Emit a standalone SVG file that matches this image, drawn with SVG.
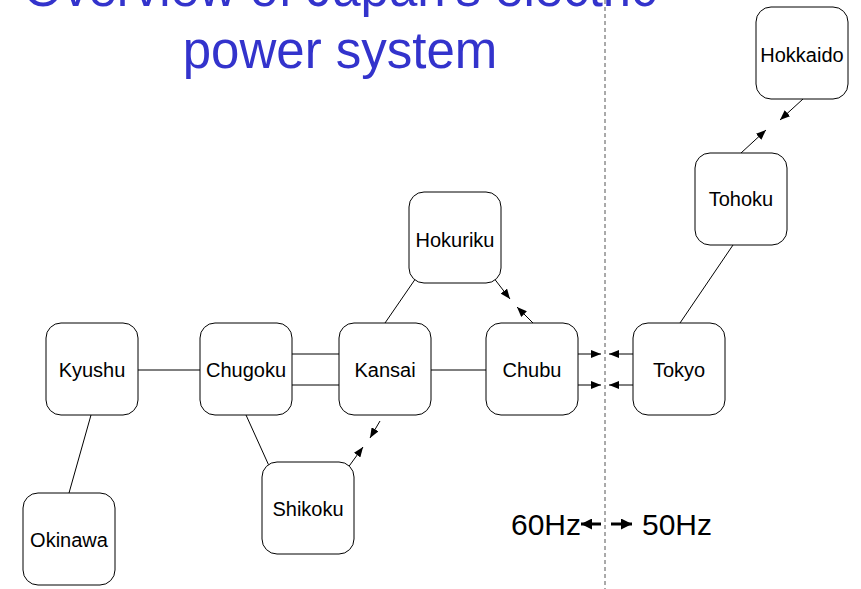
<svg xmlns="http://www.w3.org/2000/svg" width="861" height="589" viewBox="0 0 861 589">
<style>
.node rect{fill:#fff;stroke:#000;stroke-width:1}
.node text{font-family:"Liberation Sans",Arial,sans-serif;font-size:20px;fill:#000;text-anchor:middle}
.title{font-family:"Liberation Sans",Arial,sans-serif;font-size:51px;fill:#3333CC;text-anchor:middle}
.hz{font-family:"Liberation Sans",Arial,sans-serif;font-size:30px;fill:#000}
#connectors line{stroke:#000;stroke-width:1;fill:none}
#connectors .arr{marker-end:url(#ah)}
#connectors .thick{stroke-width:3;marker-end:url(#ahb)}
</style>
<defs>
<marker id="ah" markerUnits="userSpaceOnUse" markerWidth="10" markerHeight="8" refX="10" refY="4" orient="auto">
<path d="M0,0 L10,4 L0,8 Z" fill="#000"/>
</marker>
<marker id="ahb" markerUnits="userSpaceOnUse" markerWidth="11" markerHeight="11" refX="11" refY="5.5" orient="auto">
<path d="M0,0 L11,5.5 L0,11 Z" fill="#000"/>
</marker>
</defs>
<rect width="861" height="589" fill="#fff"/>
<g id="title">
<text class="title" x="340" y="6">Overview of Japan's electric</text>
<text class="title" x="340" y="68">power system</text>
</g>
<line id="boundary" x1="605" y1="0" x2="605" y2="589" stroke="#555" stroke-width="1" stroke-dasharray="4,3"/>
<g id="connectors">
<line x1="138" y1="370" x2="200" y2="370"/>
<line x1="91" y1="415" x2="69" y2="493"/>
<line x1="292" y1="354" x2="339" y2="354"/>
<line x1="292" y1="385" x2="339" y2="385"/>
<line x1="431" y1="370" x2="486" y2="370"/>
<line x1="385" y1="323" x2="416" y2="278"/>
<line x1="246" y1="415" x2="270" y2="468"/>
<line x1="680" y1="323" x2="733" y2="245"/>
<line class="arr" x1="380" y1="421" x2="370" y2="438"/>
<line class="arr" x1="347" y1="469" x2="363" y2="447"/>
<line class="arr" x1="493" y1="277" x2="510" y2="299"/>
<line class="arr" x1="533" y1="323" x2="517" y2="307"/>
<line class="arr" x1="578" y1="354" x2="601" y2="354"/>
<line class="arr" x1="578" y1="385" x2="601" y2="385"/>
<line class="arr" x1="633" y1="354" x2="609" y2="354"/>
<line class="arr" x1="633" y1="385" x2="609" y2="385"/>
<line class="arr" x1="803" y1="99" x2="780" y2="120"/>
<line class="arr" x1="741" y1="153" x2="766" y2="130"/>
<line class="thick" x1="601" y1="524" x2="581" y2="524"/>
<line class="thick" x1="611" y1="524" x2="632" y2="524"/>
</g>
<g id="hokkaido" class="node"><rect x="756" y="7" width="92" height="92" rx="15"/><text x="802" y="62">Hokkaido</text></g>
<g id="tohoku" class="node"><rect x="695" y="153" width="92" height="92" rx="15"/><text x="741" y="206">Tohoku</text></g>
<g id="hokuriku" class="node"><rect x="409" y="192" width="92" height="91" rx="15"/><text x="455" y="247">Hokuriku</text></g>
<g id="kyushu" class="node"><rect x="46" y="323" width="92" height="92" rx="15"/><text x="92" y="377">Kyushu</text></g>
<g id="chugoku" class="node"><rect x="200" y="323" width="92" height="92" rx="15"/><text x="246" y="377">Chugoku</text></g>
<g id="kansai" class="node"><rect x="339" y="323" width="92" height="92" rx="15"/><text x="385" y="377">Kansai</text></g>
<g id="chubu" class="node"><rect x="486" y="323" width="92" height="92" rx="15"/><text x="532" y="377">Chubu</text></g>
<g id="tokyo" class="node"><rect x="633" y="323" width="92" height="92" rx="15"/><text x="679" y="377">Tokyo</text></g>
<g id="shikoku" class="node"><rect x="262" y="462" width="92" height="92" rx="15"/><text x="308" y="516">Shikoku</text></g>
<g id="okinawa" class="node"><rect x="23" y="493" width="92" height="92" rx="15"/><text x="69" y="547">Okinawa</text></g>
<g id="freq">
<text class="hz" x="511" y="535">60Hz</text>
<text class="hz" x="642" y="535">50Hz</text>
</g>
</svg>
